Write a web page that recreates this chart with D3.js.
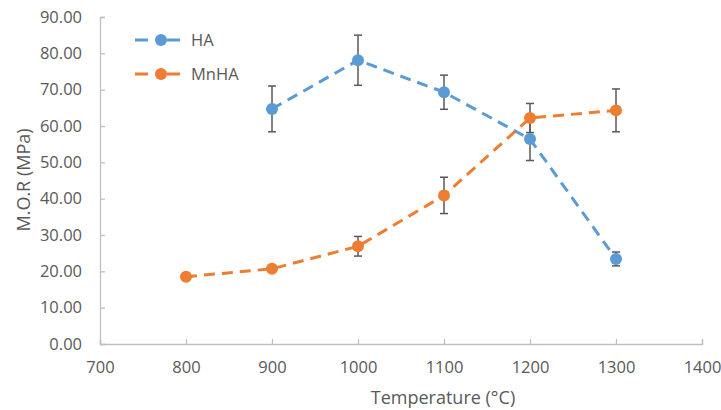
<!DOCTYPE html>
<html>
<head>
<meta charset="utf-8">
<script src="https://cdn.jsdelivr.net/npm/d3@7"></script>
<style>
  body { margin: 0; background: #fff; }
  svg { font-family: "Open Sans", "Liberation Sans", sans-serif; }
</style>
</head>
<body>
<svg id="chart" width="721" height="410"></svg>
<script>
// temperatures (°C) and M.O.R values (MPa)
const temps = [800, 900, 1000, 1100, 1200, 1300];
const haVals = [null, 64.7, 78.1, 69.3, 56.4, 23.4];
const haErr = [null, 6.3, 6.9, 4.7, 5.9, 1.9];
const mnhaVals = [18.5, 20.7, 26.9, 40.9, 62.2, 64.3];
const mnhaErr = [null, null, 2.7, 5.0, 4.0, 5.9];
const xTicks = [700, 800, 900, 1000, 1100, 1200, 1300, 1400];
const yTicks = [0, 10, 20, 30, 40, 50, 60, 70, 80, 90];

const series = [
  { name: "HA", color: "#5b9bd5", vals: haVals, err: haErr },
  { name: "MnHA", color: "#ed7d31", vals: mnhaVals, err: mnhaErr }
];

const svg = d3.select("svg#chart");
const x = d3.scaleLinear().domain([700, 1400]).range([100, 702]);
const y = d3.scaleLinear().domain([0, 90]).range([344, 17]);
const textCol = "#595959";
const axisCol = "#bfbfbf";

// y axis
const gy = svg.append("g")
              .attr("transform", "translate(100,0)")
              .call(d3.axisRight(y).tickValues(yTicks).tickSize(5).tickFormat(d3.format(".2f")));
gy.select(".domain").attr("stroke", axisCol).attr("stroke-width", 1.3);
gy.selectAll(".tick line").attr("stroke", axisCol).attr("stroke-width", 1.3);
gy.selectAll(".tick text")
  .attr("x", -18)
  .attr("text-anchor", "end")
  .attr("fill", textCol)
  .attr("font-size", 16.5);

// x axis
const gx = svg.append("g")
              .attr("transform", "translate(0,344)")
              .call(d3.axisTop(x).tickValues(xTicks).tickSize(5).tickFormat(d3.format("d")));
gx.select(".domain").attr("stroke", axisCol).attr("stroke-width", 1.3);
gx.selectAll(".tick line").attr("stroke", axisCol).attr("stroke-width", 1.3);
gx.selectAll(".tick text")
  .attr("y", 17)
  .attr("dy", "0.71em")
  .attr("fill", textCol)
  .attr("font-size", 16.5)
  .attr("text-anchor", "middle");
gx.attr("font-family", null);
gy.attr("font-family", null);

// axis titles
svg.append("text")
   .attr("transform", "translate(30,180) rotate(-90)")
   .attr("text-anchor", "middle")
   .attr("fill", textCol)
   .attr("font-size", 18)
   .text("M.O.R (MPa)");

svg.append("text")
   .attr("x", 443)
   .attr("y", 404)
   .attr("text-anchor", "middle")
   .attr("fill", textCol)
   .attr("font-size", 18)
   .text("Temperature (°C)");

// lines
const line = d3.line()
               .defined(d => d.v != null)
               .x(d => x(d.t))
               .y(d => y(d.v));

series.forEach(s => {
  const pts = temps.map((t, i) => ({ t, v: s.vals[i], e: s.err[i] }));
  svg.append("path")
     .datum(pts)
     .attr("fill", "none")
     .attr("stroke", s.color)
     .attr("stroke-width", 3)
     .attr("stroke-dasharray", "11,7")
     .attr("d", line);
});

// error bars then markers
series.forEach(s => {
  const pts = temps.map((t, i) => ({ t, v: s.vals[i], e: s.err[i] })).filter(d => d.v != null && d.e != null);
  const g = svg.append("g").attr("stroke", "#595959").attr("stroke-width", 1.5);
  g.selectAll("line.v").data(pts).enter().append("line")
   .attr("x1", d => x(d.t)).attr("x2", d => x(d.t))
   .attr("y1", d => y(d.v - d.e)).attr("y2", d => y(d.v + d.e));
  g.selectAll("line.t").data(pts).enter().append("line")
   .attr("x1", d => x(d.t) - 4).attr("x2", d => x(d.t) + 4)
   .attr("y1", d => y(d.v + d.e)).attr("y2", d => y(d.v + d.e));
  g.selectAll("line.b").data(pts).enter().append("line")
   .attr("x1", d => x(d.t) - 4).attr("x2", d => x(d.t) + 4)
   .attr("y1", d => y(d.v - d.e)).attr("y2", d => y(d.v - d.e));
});

series.forEach(s => {
  const pts = temps.map((t, i) => ({ t, v: s.vals[i] })).filter(d => d.v != null);
  svg.append("g").selectAll("circle").data(pts).enter().append("circle")
     .attr("cx", d => x(d.t))
     .attr("cy", d => y(d.v))
     .attr("r", 6)
     .attr("fill", s.color);
});

// legend
const legend = svg.append("g");
series.forEach((s, i) => {
  const ly = 40 + i * 34;
  const lg = legend.append("g").attr("transform", `translate(0,${ly})`);
  lg.append("line").attr("x1", 135).attr("x2", 148).attr("y1", 0).attr("y2", 0)
    .attr("stroke", s.color).attr("stroke-width", 3);
  lg.append("line").attr("x1", 167).attr("x2", 180).attr("y1", 0).attr("y2", 0)
    .attr("stroke", s.color).attr("stroke-width", 3);
  lg.append("circle").attr("cx", 161).attr("cy", 0).attr("r", 6).attr("fill", s.color);
  lg.append("text").attr("x", 191).attr("y", 0).attr("dy", "0.35em")
    .attr("fill", textCol).attr("font-size", 16.5).text(s.name);
});
</script>
</body>
</html>
